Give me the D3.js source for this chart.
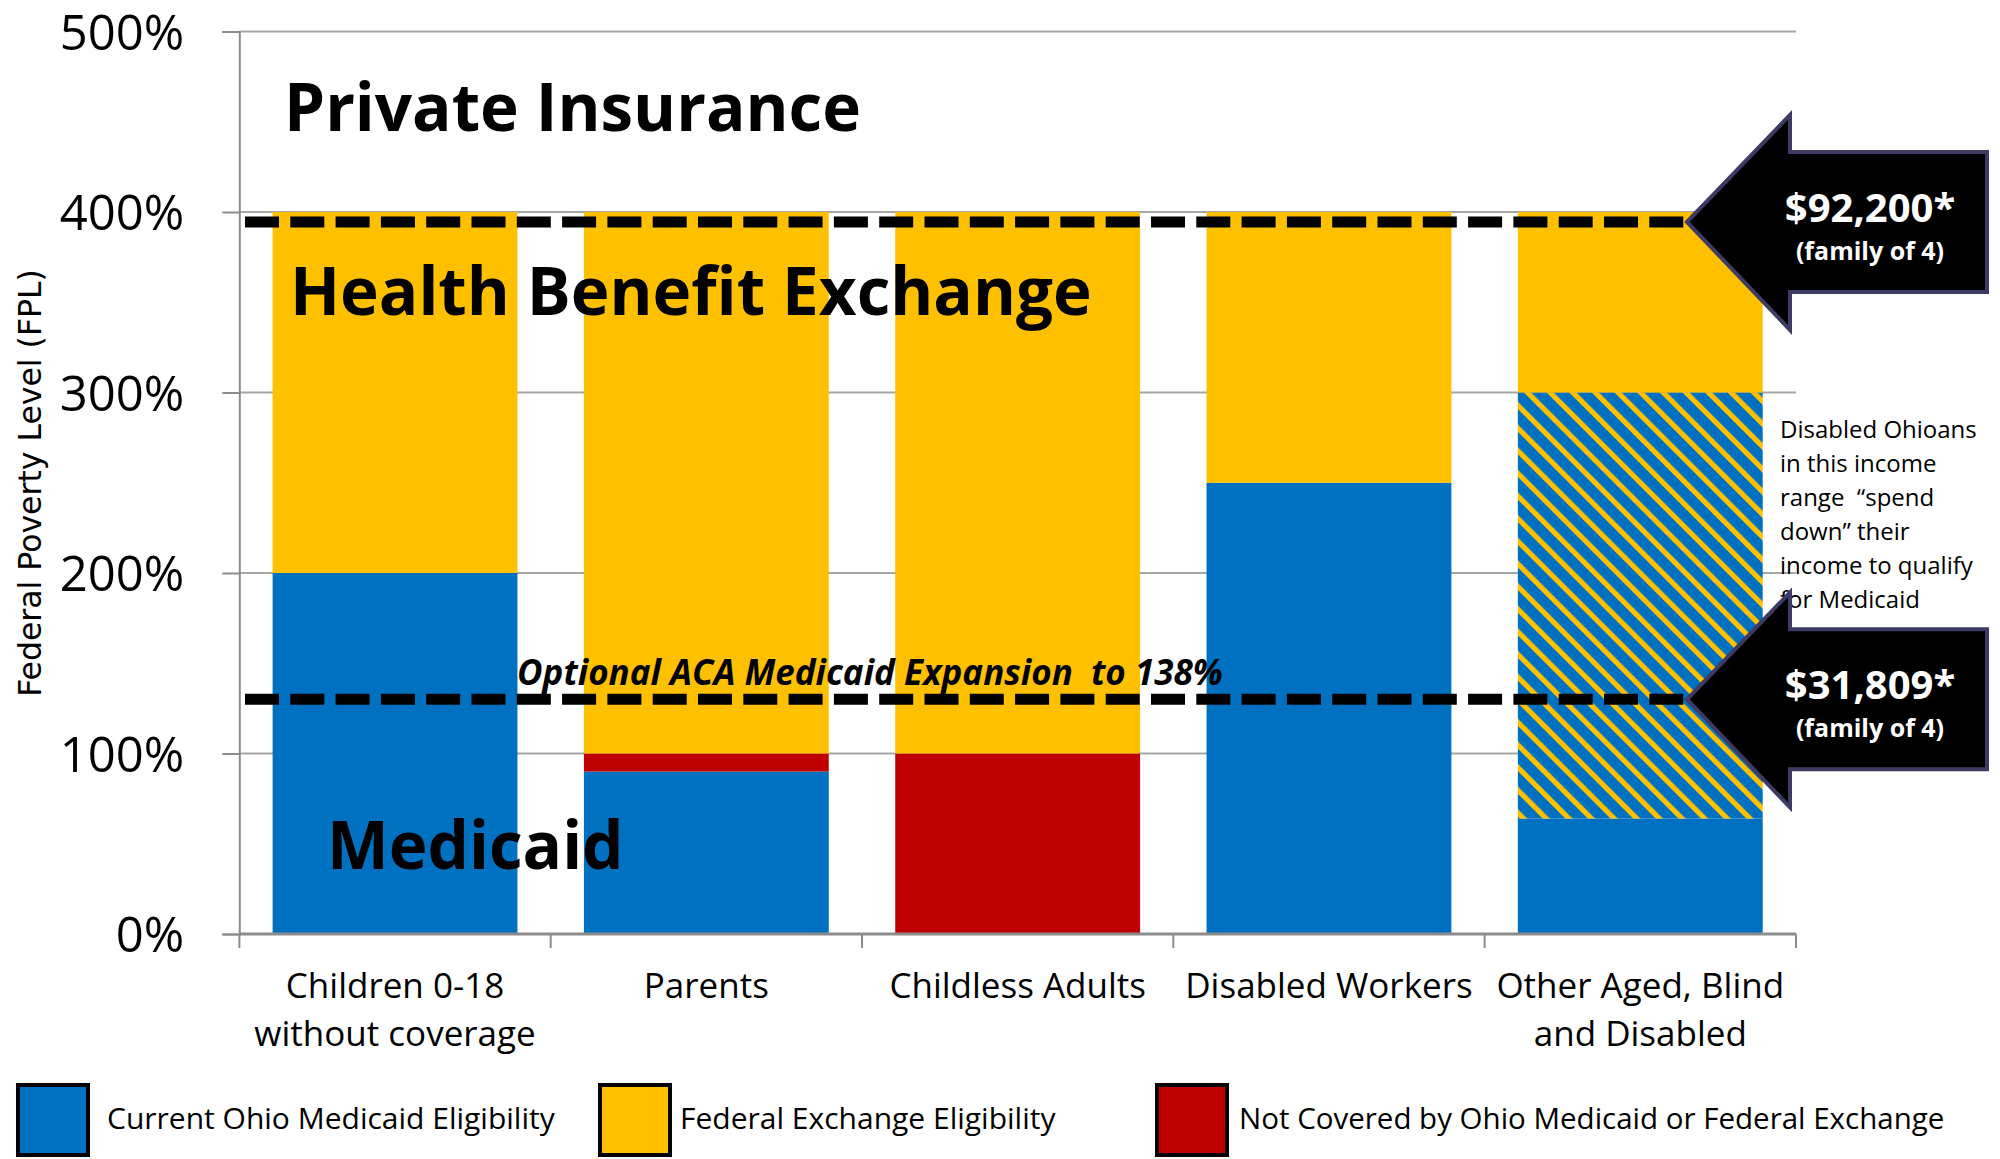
<!DOCTYPE html>
<html>
<head>
<meta charset="utf-8">
<script src="https://cdn.jsdelivr.net/npm/d3@7"></script>
<style>
  body { margin: 0; background: #fff; }
  svg { display: block; font-family: "Open Sans", sans-serif; }
</style>
</head>
<body>
<div id="chart"></div>
<script>
// categories and stacked values (% of FPL)
const categoryLines = [
  ['Children 0-18', 'without coverage'],
  ['Parents'],
  ['Childless Adults'],
  ['Disabled Workers'],
  ['Other Aged, Blind', 'and Disabled']
];
const categories = categoryLines.map(l => l.join(' '));
const medicaid   = [200, 90, 0, 250, 64];
const notCovered = [0, 10, 100, 0, 0];
const spendDown  = [0, 0, 0, 0, 236];
const exchange   = [200, 300, 300, 150, 100];
const yTicks = [0, 100, 200, 300, 400, 500];

// dashed thresholds and the arrow labels that point at them
const refLines = [394.5, 130];
const arrowLabels = [['$92,200*', '(family of 4)'], ['$31,809*', '(family of 4)']];

const legendLabels = [
  'Current Ohio Medicaid Eligibility',
  'Federal Exchange Eligibility',
  'Not Covered by Ohio Medicaid or Federal Exchange'
];
const noteLines = ['Disabled Ohioans', 'in this income', 'range  \u201cspend', 'down\u201d their', 'income to qualify', 'for Medicaid'];

const W = 2000, H = 1159;
const plot = { left: 239.3, right: 1796, top: 31.5, bottom: 934 };
const colors = { medicaid: '#0070C0', exchange: '#FFC000', notCovered: '#C00000' };

const svg = d3.select('#chart').append('svg')
  .attr('width', W)
  .attr('height', H);

const defs = svg.append('defs');
const hatch = defs.append('pattern')
  .attr('id', 'hatch')
  .attr('patternUnits', 'userSpaceOnUse')
  .attr('width', 16)
  .attr('height', 16)
  .attr('patternTransform', 'rotate(-45)');
hatch.append('rect').attr('width', 16).attr('height', 16).attr('fill', colors.medicaid);
hatch.append('rect').attr('width', 5.2).attr('height', 16).attr('fill', colors.exchange);

const x = d3.scaleBand()
  .domain(categories)
  .range([plot.left, plot.right])
  .paddingInner(0.2135)
  .paddingOuter(0.107);

const y = d3.scaleLinear()
  .domain([0, 500])
  .range([plot.bottom, plot.top]);

// gridlines
svg.append('g')
  .selectAll('line')
  .data(yTicks.slice(1))
  .join('line')
  .attr('x1', plot.left)
  .attr('x2', plot.right)
  .attr('y1', d => y(d))
  .attr('y2', d => y(d))
  .attr('stroke', '#a6a6a6')
  .attr('stroke-width', 2);

// stacked bars
const rows = categories.map((c, i) => ({
  category: c,
  medicaid: medicaid[i],
  notCovered: notCovered[i],
  spendDown: spendDown[i],
  exchange: exchange[i]
}));
const keys = ['medicaid', 'notCovered', 'spendDown', 'exchange'];
const fills = { medicaid: colors.medicaid, notCovered: colors.notCovered, spendDown: 'url(#hatch)', exchange: colors.exchange };
const stacked = d3.stack().keys(keys)(rows);

svg.append('g')
  .selectAll('g')
  .data(stacked)
  .join('g')
  .attr('fill', d => fills[d.key])
  .selectAll('rect')
  .data(d => d.filter(s => s[1] > s[0]))
  .join('rect')
  .attr('x', d => x(d.data.category))
  .attr('width', x.bandwidth())
  .attr('y', d => y(d[1]))
  .attr('height', d => y(d[0]) - y(d[1]));

// y axis
const yAxis = svg.append('g')
  .attr('transform', `translate(${plot.left},0)`)
  .call(d3.axisLeft(y).tickValues(yTicks).tickSize(17).tickPadding(38).tickFormat(d => d + '%'));
yAxis.select('.domain').attr('stroke', '#8c8c8c').attr('stroke-width', 2);
yAxis.selectAll('.tick line').attr('stroke', '#8c8c8c').attr('stroke-width', 2);
yAxis.selectAll('.tick text')
  .attr('font-family', '"Open Sans", sans-serif')
  .attr('font-size', 49)
  .attr('fill', '#000')
  .attr('dy', '0.36em');

// x axis baseline + boundary ticks
svg.append('line')
  .attr('x1', plot.left).attr('x2', plot.right)
  .attr('y1', plot.bottom).attr('y2', plot.bottom)
  .attr('stroke', '#8c8c8c').attr('stroke-width', 3);
const half = (x.step() - x.bandwidth()) / 2;
const bounds = categories.map(c => x(c) - half).concat([plot.right]);
svg.append('g')
  .selectAll('line')
  .data(bounds)
  .join('line')
  .attr('x1', d => d).attr('x2', d => d)
  .attr('y1', plot.bottom).attr('y2', plot.bottom + 14)
  .attr('stroke', '#8c8c8c').attr('stroke-width', 2);

// category labels
svg.append('g')
  .selectAll('text')
  .data(categories)
  .join('text')
  .attr('text-anchor', 'middle')
  .attr('font-size', 35)
  .attr('fill', '#000')
  .each(function(c, i) {
    d3.select(this).selectAll('tspan')
      .data(categoryLines[i])
      .join('tspan')
      .attr('x', x(c) + x.bandwidth() / 2)
      .attr('y', (d, j) => plot.bottom + 64 + j * 48)
      .text(d => d);
  });

// y axis title
svg.append('text')
  .attr('transform', 'translate(41,483) rotate(-90)')
  .attr('text-anchor', 'middle')
  .attr('font-family', '"DejaVu Sans", sans-serif')
  .attr('font-size', 31.5)
  .attr('fill', '#000')
  .text('Federal Poverty Level (FPL)');

// region labels
const big = [
  { text: 'Private Insurance', x: 284, y: 131 },
  { text: 'Health Benefit Exchange', x: 290, y: 315 },
  { text: 'Medicaid', x: 327, y: 869 }
];
svg.append('g')
  .selectAll('text')
  .data(big)
  .join('text')
  .attr('x', d => d.x)
  .attr('y', d => d.y)
  .attr('font-size', 65.5)
  .attr('font-weight', 700)
  .attr('fill', '#000')
  .text(d => d.text);

svg.append('text')
  .attr('x', 517)
  .attr('y', 685)
  .attr('font-size', 35)
  .attr('font-weight', 700)
  .attr('font-style', 'italic')
  .attr('fill', '#000')
  .attr('xml:space', 'preserve')
  .style('white-space', 'pre')
  .text('Optional ACA Medicaid Expansion  to 138%');

// dashed threshold lines
const tipX = 1687;
svg.append('g')
  .selectAll('line')
  .data(refLines)
  .join('line')
  .attr('x1', 245)
  .attr('x2', tipX)
  .attr('y1', d => y(d))
  .attr('y2', d => y(d))
  .attr('stroke', '#000')
  .attr('stroke-width', 11)
  .attr('stroke-dasharray', '34 11.3');

// side note
svg.append('text')
  .attr('font-size', 24)
  .attr('fill', '#000')
  .selectAll('tspan')
  .data(noteLines)
  .join('tspan')
  .attr('x', 1780)
  .attr('y', (d, i) => 438 + i * 34)
  .attr('xml:space', 'preserve')
  .style('white-space', 'pre')
  .text(d => d);

// arrows
const arrowPath = (tx, ty) => {
  const p = d3.path();
  p.moveTo(tx, ty);
  p.lineTo(tx + 103, ty - 107);
  p.lineTo(tx + 103, ty - 70);
  p.lineTo(tx + 300, ty - 70);
  p.lineTo(tx + 300, ty + 70);
  p.lineTo(tx + 103, ty + 70);
  p.lineTo(tx + 103, ty + 108);
  p.closePath();
  return p.toString();
};
const arrows = svg.append('g')
  .selectAll('g')
  .data(refLines)
  .join('g');
arrows.append('path')
  .attr('d', d => arrowPath(tipX, y(d)))
  .attr('fill', '#000')
  .attr('stroke', '#3d3b63')
  .attr('stroke-width', 4)
  .attr('stroke-linejoin', 'miter');
arrows.append('text')
  .attr('x', tipX + 183)
  .attr('y', d => y(d))
  .attr('text-anchor', 'middle')
  .attr('font-size', 40)
  .attr('font-weight', 700)
  .attr('fill', '#fff')
  .text((d, i) => arrowLabels[i][0]);
arrows.append('text')
  .attr('x', tipX + 183)
  .attr('y', d => y(d) + 38)
  .attr('text-anchor', 'middle')
  .attr('font-size', 25)
  .attr('font-weight', 700)
  .attr('fill', '#fff')
  .text((d, i) => arrowLabels[i][1]);

// legend
const legendX = [18, 600, 1157];
const legendTextX = [89, 80, 82];
const legendColors = [colors.medicaid, colors.exchange, colors.notCovered];
const legend = svg.append('g')
  .selectAll('g')
  .data(legendLabels)
  .join('g')
  .attr('transform', (d, i) => `translate(${legendX[i]},1085)`);
legend.append('rect')
  .attr('width', 70)
  .attr('height', 70)
  .attr('fill', (d, i) => legendColors[i])
  .attr('stroke', '#000')
  .attr('stroke-width', 4);
legend.append('text')
  .attr('x', (d, i) => legendTextX[i])
  .attr('y', 44)
  .attr('font-size', (d, i) => i === 2 ? 29.5 : 30)
  .attr('fill', '#000')
  .text(d => d);
</script>
</body>
</html>
